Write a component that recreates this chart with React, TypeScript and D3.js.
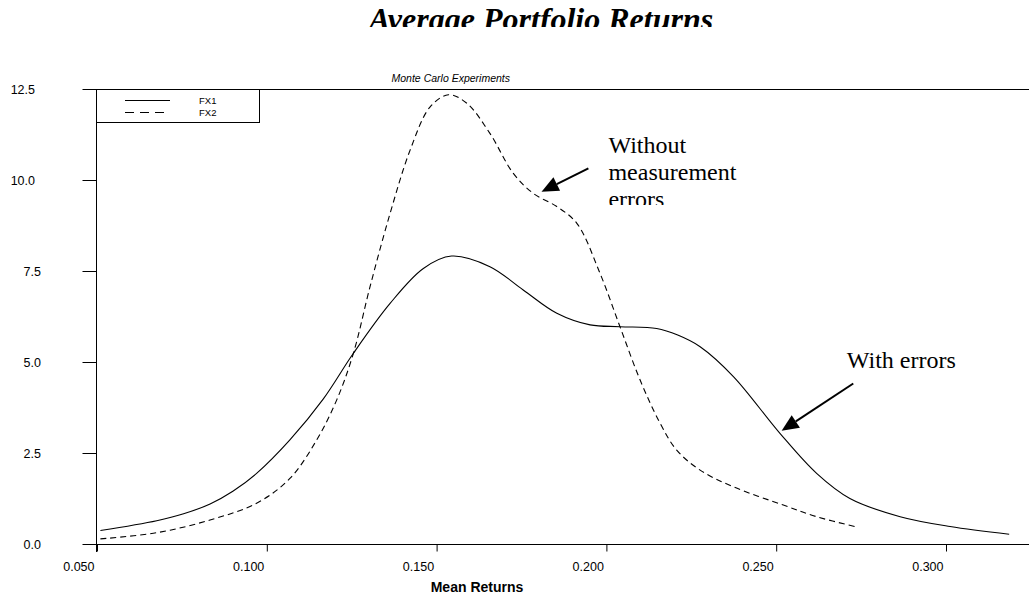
import { useEffect, useRef } from 'react'
import * as d3 from 'd3'

// FX1: with measurement errors (solid)
const fx1X = [0.051, 0.0676, 0.0755, 0.0833, 0.09, 0.097, 0.1068, 0.1166, 0.1255, 0.1363, 0.1461, 0.1544, 0.1657, 0.1755, 0.1854, 0.1952, 0.204, 0.2148, 0.221, 0.2276, 0.2374, 0.2511, 0.2619, 0.2717, 0.2865, 0.3012, 0.3186]
const fx1Y = [0.37, 0.64, 0.83, 1.1, 1.45, 1.94, 2.86, 3.98, 5.24, 6.61, 7.57, 7.91, 7.62, 6.98, 6.34, 6.02, 5.97, 5.92, 5.74, 5.42, 4.6, 3.04, 1.94, 1.25, 0.75, 0.48, 0.27]

// FX2: without measurement errors (dashed)
const fx2X = [0.051, 0.0676, 0.0833, 0.097, 0.1068, 0.1147, 0.1206, 0.1255, 0.1304, 0.1363, 0.1422, 0.1481, 0.1535, 0.1589, 0.1657, 0.1726, 0.1785, 0.1854, 0.1913, 0.1981, 0.204, 0.2099, 0.2158, 0.2207, 0.2276, 0.2374, 0.2521, 0.2619, 0.2732]
const fx2Y = [0.14, 0.31, 0.66, 1.12, 1.8, 2.86, 3.96, 5.24, 7.07, 9.08, 10.82, 12.01, 12.34, 12.11, 11.28, 10.18, 9.63, 9.27, 8.81, 7.44, 5.97, 4.51, 3.32, 2.58, 2.03, 1.57, 1.07, 0.75, 0.48]

const xTicks = [0.05, 0.1, 0.15, 0.2, 0.25, 0.3]
const yTicks = [0, 2.5, 5, 7.5, 10, 12.5]
const legendLabels = ['FX1', 'FX2']

// annotations in data units: label lines, text anchor, arrow tail and tip
const annoLines = [['Without', 'measurement', 'errors'], ['With errors']]
const annoText = [[0.2006, 10.74], [0.2708, 4.835]]
const arrowTail = [[0.1947, 10.32], [0.2727, 4.41]]
const arrowTip = [[0.1809, 9.68], [0.2516, 3.11]]

export default function App() {
  const svgRef = useRef<SVGSVGElement>(null)

  useEffect(() => {
    if (!svgRef.current) return
    const W = 1029, H = 599
    const svg = d3.select(svgRef.current).attr('width', W).attr('height', H)
    svg.selectAll('*').remove()
    const defs = svg.append('defs')
    defs.append('clipPath').attr('id', 'title-clip')
      .append('rect').attr('x', 0).attr('y', 0).attr('width', W).attr('height', 27)
    defs.append('clipPath').attr('id', 'anno-clip')
      .append('rect').attr('x', 0).attr('y', 120).attr('width', W).attr('height', 85)

    const x = d3.scaleLinear().domain([0.05, 0.3]).range([97, 946])
    const y = d3.scaleLinear().domain([0, 12.5]).range([544, 89])
    const sans = 'Arial, "Liberation Sans", Helvetica, sans-serif'
    const serif = '"Times New Roman", "Liberation Serif", Times, serif'

    // title (cut off at the bottom, as in the original)
    svg.append('text').attr('x', 541).attr('y', 29.5).attr('text-anchor', 'middle')
      .attr('clip-path', 'url(#title-clip)')
      .attr('font-family', serif).attr('font-size', 32).attr('font-weight', 'bold').attr('font-style', 'italic')
      .text('Average Portfolio Returns')

    svg.append('text').attr('x', 510).attr('y', 82).attr('text-anchor', 'end')
      .attr('font-family', sans).attr('font-size', 10.5).attr('font-style', 'italic')
      .text('Monte Carlo Experiments')

    // frame lines
    svg.append('line').attr('x1', 83).attr('x2', W).attr('y1', 89.5).attr('y2', 89.5).attr('stroke', '#000')
    svg.append('line').attr('x1', 83).attr('x2', W).attr('y1', 544.5).attr('y2', 544.5).attr('stroke', '#000')
    svg.append('line').attr('x1', 96.5).attr('x2', 96.5).attr('y1', 89).attr('y2', 552).attr('stroke', '#000')

    // x axis
    const gx = svg.append('g').attr('transform', 'translate(0,544.5)')
      .call(d3.axisBottom(x).tickValues(xTicks).tickSize(7).tickFormat(d3.format('.3f')))
    gx.select('.domain').remove()
    gx.selectAll('line').attr('stroke', '#000')
    gx.selectAll('text').attr('text-anchor', 'end').attr('x', -3).attr('y', 26).attr('dy', 0)
      .attr('font-family', sans).attr('font-size', 12.5).attr('fill', '#000')

    // y axis
    const gy = svg.append('g').attr('transform', 'translate(96.5,0)')
      .call(d3.axisLeft(y).tickValues(yTicks).tickSize(14).tickFormat(d3.format('.1f')))
    gy.select('.domain').remove()
    gy.selectAll('line').attr('stroke', '#000')
    gy.selectAll<SVGTextElement, number>('text')
      .attr('x', (d) => (d3.format('.1f')(d).length > 3 ? -61.5 : -55.5))
      .attr('font-family', sans).attr('font-size', 12.5).attr('fill', '#000')

    svg.append('text').attr('x', 477).attr('y', 592).attr('text-anchor', 'middle')
      .attr('font-family', sans).attr('font-size', 14).attr('font-weight', 'bold')
      .text('Mean Returns')

    // curves
    const line = d3.line<number>().curve(d3.curveCatmullRom.alpha(0.5))
    svg.append('path').datum(fx1X.map((_, i) => i))
      .attr('fill', 'none').attr('stroke', '#000').attr('stroke-width', 1.1)
      .attr('d', line.x((i) => x(fx1X[i])).y((i) => y(fx1Y[i])))
    svg.append('path').datum(fx2X.map((_, i) => i))
      .attr('fill', 'none').attr('stroke', '#000').attr('stroke-width', 1.1).attr('stroke-dasharray', '6 4')
      .attr('d', line.x((i) => x(fx2X[i])).y((i) => y(fx2Y[i])))

    // legend
    svg.append('rect').attr('x', 96.5).attr('y', 89.5).attr('width', 163).attr('height', 33)
      .attr('fill', '#fff').attr('stroke', '#000')
    legendLabels.forEach((lab, i) => {
      const ly = 100.5 + i * 12
      svg.append('line').attr('x1', 125).attr('x2', 170).attr('y1', ly).attr('y2', ly)
        .attr('stroke', '#000').attr('stroke-dasharray', i === 0 ? null : '9 6')
      svg.append('text').attr('x', 199).attr('y', ly + 3.5)
        .attr('font-family', sans).attr('font-size', 9.5).text(lab)
    })

    // annotations
    annoLines.forEach((lines, k) => {
      const t = svg.append('text').attr('font-family', serif).attr('font-size', 24)
      if (k === 0) t.attr('clip-path', 'url(#anno-clip)')
      lines.forEach((s, j) => {
        t.append('tspan').attr('x', x(annoText[k][0])).attr('y', y(annoText[k][1]) + j * 27).text(s)
      })
      const x0 = x(arrowTail[k][0]), y0 = y(arrowTail[k][1])
      const x1 = x(arrowTip[k][0]), y1 = y(arrowTip[k][1])
      const ang = Math.atan2(y1 - y0, x1 - x0)
      const hl = 17, hw = 7.5
      const bx = x1 - hl * Math.cos(ang), by = y1 - hl * Math.sin(ang)
      svg.append('line').attr('x1', x0).attr('y1', y0).attr('x2', bx).attr('y2', by)
        .attr('stroke', '#000').attr('stroke-width', 2)
      svg.append('path')
        .attr('d', `M${x1},${y1}L${bx + hw * Math.sin(ang)},${by - hw * Math.cos(ang)}L${bx - hw * Math.sin(ang)},${by + hw * Math.cos(ang)}Z`)
        .attr('fill', '#000')
    })

    return () => { svg.selectAll('*').remove() }
  }, [])

  return <svg ref={svgRef} style={{ position: 'absolute', left: 0, top: 0, background: '#fff' }} />
}
